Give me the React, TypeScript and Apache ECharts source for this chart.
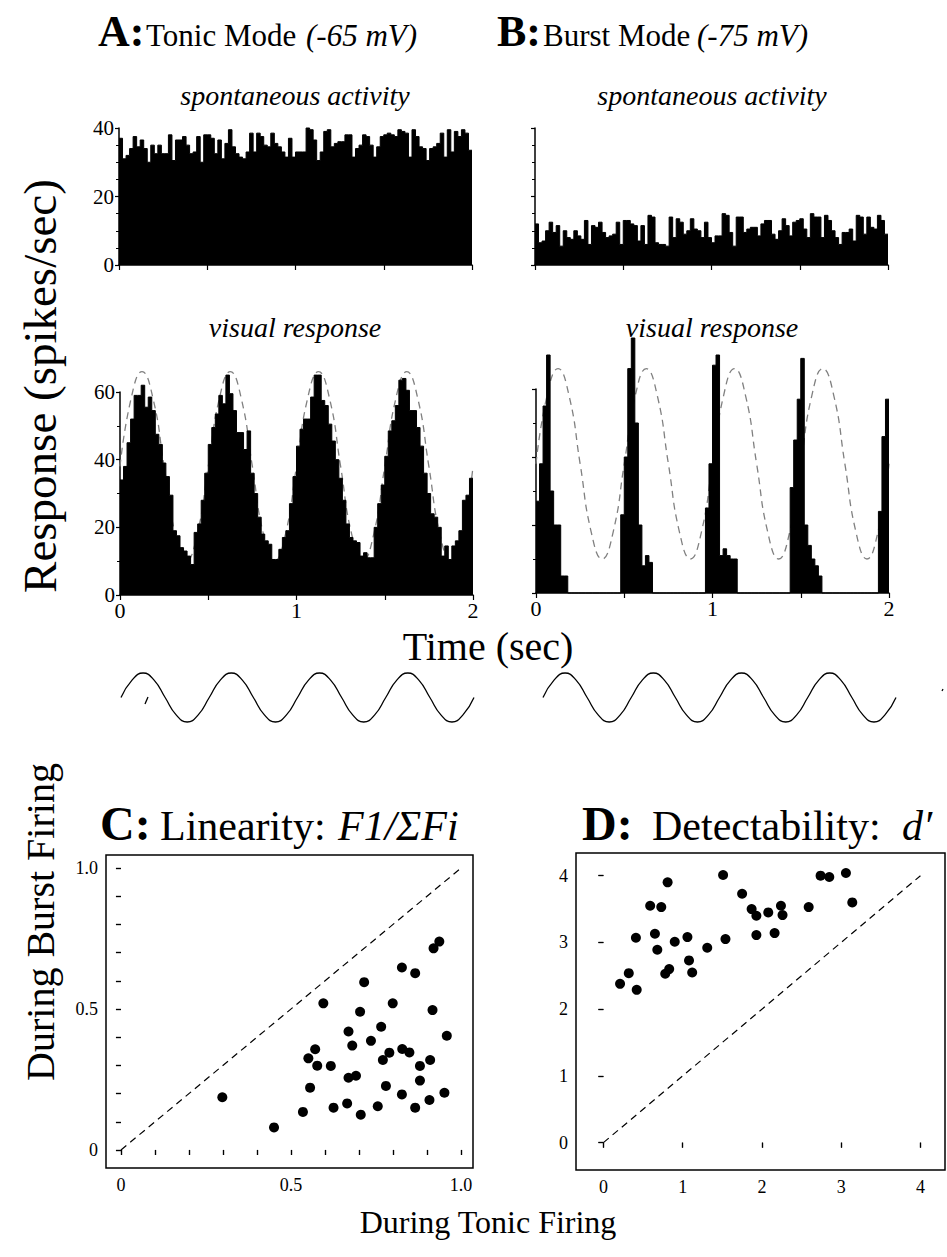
import React, { useEffect, useRef } from "react";
import * as echarts from "echarts";

const SERIF = "Liberation Serif";

// ---- histogram data (spikes/sec), 20 ms bins over 2 s ----
const binWidth = 0.02;

const tonicSpontaneous = [
  37, 31, 32, 34, 37.5, 34.5, 36.5, 34, 30, 35,
  32.5, 35, 32.5, 32.5, 38, 30.5, 36.5, 36.5, 37.5, 35,
  32.5, 33, 37.5, 30, 38, 38, 37, 32.5, 36.5, 31,
  35.5, 39.5, 34.5, 32.5, 31.5, 31, 33, 38.5, 33, 38.5,
  37.5, 35, 34.5, 38.5, 35.5, 34.5, 33, 31.5, 37, 31.5,
  33, 33, 33, 40, 39.5, 36.5, 30.5, 33, 39, 39.5,
  34.5, 35.5, 36, 36, 38, 38, 31.5, 34, 35, 38,
  37.5, 35, 31.5, 34.5, 37.5, 38, 38.5, 38, 37.5, 39.5,
  39, 38.5, 31.5, 39.5, 37.5, 34.5, 34, 30.5, 34, 34.5,
  35.5, 38.5, 31.5, 39.5, 33, 39, 37.5, 39.5, 38.5, 33.5,
];

const burstSpontaneous = [
  12, 6.5, 7, 10, 12.5, 9.5, 11.5, 5.5, 10, 8,
  7.5, 10, 8.5, 7.5, 13, 6, 11.5, 11, 12.5, 9.5,
  8, 8.5, 9, 12.5, 6, 13, 13, 12, 11.5, 7,
  11.5, 6, 14.5, 14, 6.5, 6, 6, 5.5, 14, 8,
  13.5, 12.5, 9, 10, 13.5, 10.5, 10, 8, 12.5, 8,
  6.5, 8.5, 8.5, 15, 14.5, 9.5, 5.5, 14, 14, 9.5,
  10.5, 11, 11, 8.5, 12, 13, 13, 9, 7.5, 10,
  13.5, 11.5, 8.5, 12.5, 13, 13.5, 10.5, 8, 15, 14,
  14, 8, 14.5, 13, 10, 8, 6, 9.5, 9.5, 10.5,
  7, 14.5, 14, 9, 14, 11, 10.5, 14.5, 13, 9,
];

const tonicVisual = [
  34, 38, 45, 52, 59, 59, 62, 55.5, 58.5, 54.5,
  47.5, 44.5, 39, 35, 29.5, 19, 17.5, 14, 13, 11.5,
  9, 18.5, 21, 28, 36, 44.5, 49.5, 53.5, 59, 56.5,
  65, 59.5, 54.5, 48, 48, 43, 48.5, 36, 30, 23,
  18, 16, 15, 10.5, 10.5, 13.5, 17, 19, 27, 35,
  44, 49, 52, 52, 58.5, 65, 65, 57.5, 56, 50.5,
  45.5, 40, 34.5, 28, 21, 17, 16, 15.5, 11.5, 12.5,
  11, 11, 20, 27, 32.5, 41, 48.5, 51.5, 56, 63.5,
  64, 60.5, 54.5, 54.5, 49.5, 44, 36, 30, 24, 23,
  20, 11.5, 14.5, 10.5, 14.5, 16, 19, 28, 29.5, 34.5,
];

const burstVisual = [
  27, 38, 55, 70, 30, 20, 20, 5, 5, 0,
  0, 0, 0, 0, 0, 0, 0, 0, 0, 0,
  0, 0, 0, 0, 23, 40, 66, 75, 50, 20,
  8, 11, 9, 0, 0, 0, 0, 0, 0, 0,
  0, 0, 0, 0, 0, 0, 0, 0, 25, 38,
  67, 70, 11, 13, 11, 10, 10, 0, 0, 0,
  0, 0, 0, 0, 0, 0, 0, 0, 0, 0,
  0, 0, 31, 45, 57, 69, 20, 14, 10, 8,
  5, 0, 0, 0, 0, 0, 0, 0, 0, 0,
  0, 0, 0, 0, 0, 0, 0, 24, 46, 57,
];

// sinusoidal fit (spikes/sec) read every 1/16 s over one cycle; 4 cycles in 2 s
const fitStep = 1 / 16;
const fitCycle = [38, 58, 66, 58, 38, 18, 10, 18];
const fitCycles = 4;
// stimulus (relative contrast) read every 1/16 s over one cycle
const stimCycle = [0, 0.71, 1, 0.71, 0, -0.71, -1, -0.71];

// ---- scatter data ----
const linearityTonic = [
  0.919, 0.936, 0.826, 0.865, 0.715, 0.595, 0.703, 0.799, 0.916, 0.669,
  0.765, 0.958, 0.68, 0.735, 0.571, 0.551, 0.577, 0.617, 0.77, 0.789,
  0.827, 0.848, 0.879, 0.909, 0.669, 0.691, 0.879, 0.556, 0.779, 0.298,
  0.826, 0.951, 0.907, 0.45, 0.535, 0.625, 0.665, 0.705, 0.755, 0.865,
];
const linearityBurst = [
  0.715, 0.739, 0.647, 0.627, 0.595, 0.52, 0.49, 0.52, 0.496, 0.42,
  0.437, 0.405, 0.37, 0.387, 0.357, 0.325, 0.299, 0.298, 0.319, 0.345,
  0.358, 0.346, 0.298, 0.319, 0.256, 0.263, 0.246, 0.221, 0.227, 0.187,
  0.197, 0.203, 0.177, 0.08, 0.135, 0.15, 0.165, 0.125, 0.155, 0.15,
];
const detectTonic = [
  0.21, 0.32, 0.42, 0.41, 0.59, 0.73, 0.65, 0.68, 0.81, 0.78,
  0.83, 0.9, 1.06, 1.08, 1.12, 1.31, 1.51, 1.54, 1.75, 1.87,
  1.93, 1.93, 2.08, 2.16, 2.24, 2.26, 2.59, 2.74, 2.85, 3.06,
  3.14,
];
const detectBurst = [
  2.38, 2.54, 2.29, 3.07, 3.55, 3.53, 3.13, 2.89, 3.9, 2.53,
  2.6, 3.01, 3.08, 2.73, 2.55, 2.92, 4.01, 3.05, 3.73, 3.5,
  3.4, 3.11, 3.45, 3.14, 3.55, 3.41, 3.53, 4.0, 3.98, 4.04,
  3.6,
];

const unityC = [0, 1];
const unityD = [0, 4];
const ticksC = [0, 0.1, 0.2, 0.3, 0.4, 0.5, 0.6, 0.7, 0.8, 0.9, 1.0];
const labelsC = [0, 0.5, 1.0];
const ticksD = [0, 1, 2, 3, 4];

function histogram(values: number[]) {
  const pts: number[][] = values.map((v, i) => [i * binWidth, v]);
  pts.push([values.length * binWidth, values[values.length - 1]]);
  return pts;
}
function cyclic(cycle: number[]) {
  const pts: number[][] = [];
  const n = cycle.length * fitCycles;
  for (let k = 0; k <= n; k++) pts.push([k * fitStep, cycle[k % cycle.length]]);
  return pts;
}

const black = "#000";

function histX(grid: number, labels: boolean) {
  return {
    type: "value", gridIndex: grid, min: 0, max: 2, interval: 0.5,
    axisLine: { show: true, lineStyle: { color: black, width: 1.5 } },
    axisTick: { show: true, length: 5, lineStyle: { color: black, width: 1.2 } },
    axisLabel: {
      show: labels, color: black, fontFamily: SERIF, fontSize: 22, margin: 4,
      formatter: (v: number) => (Number.isInteger(v) ? String(v) : ""),
    },
    splitLine: { show: false },
  };
}
function histY(grid: number, max: number, labels: boolean, minorSplit: number) {
  return {
    type: "value", gridIndex: grid, min: 0, max, interval: 20,
    axisLine: { show: true, lineStyle: { color: black, width: 1.5 } },
    axisTick: { show: true, length: 4, lineStyle: { color: black, width: 1.2 } },
    minorTick: { show: true, splitNumber: minorSplit, length: 3, lineStyle: { color: black, width: 1 } },
    axisLabel: { show: labels, color: black, fontFamily: SERIF, fontSize: 21, margin: 5 },
    splitLine: { show: false },
    minorSplitLine: { show: false },
  };
}
function hiddenAxis(grid: number, min: number, max: number) {
  return {
    type: "value", gridIndex: grid, min, max, show: false,
    axisLine: { show: false }, axisTick: { show: false }, axisLabel: { show: false }, splitLine: { show: false },
  };
}
function scatterAxis(
  grid: number, min: number, max: number, position: string, ticks: number[],
  labels: number[] | null, inside: boolean, fmt: (v: number) => string
) {
  return {
    type: "value", gridIndex: grid, min, max, position,
    axisLine: { show: false },
    axisTick: { show: true, inside, length: 5, customValues: ticks, lineStyle: { color: black, width: 1.2 } },
    axisLabel: {
      show: !!labels, customValues: labels || [], color: black, fontFamily: SERIF, fontSize: 18, margin: 8,
      formatter: fmt,
    },
    splitLine: { show: false },
  };
}
const fmtC = (v: number) => (v === 0 ? "0" : v.toFixed(1));
const fmtD = (v: number) => String(v);

function txt(text: string, x: number, y: number, size: number, o: any = {}) {
  return {
    type: "text",
    x, y,
    rotation: o.rotation || 0,
    z: 100,
    style: {
      text,
      fill: black,
      fontFamily: SERIF,
      fontSize: size,
      fontStyle: o.italic ? "italic" : "normal",
      fontWeight: o.bold ? "bold" : "normal",
      textAlign: o.align || "left",
      align: o.align || "left",
      textVerticalAlign: "middle",
      verticalAlign: "middle",
    },
  };
}

export default function App() {
  const ref = useRef<HTMLDivElement>(null);
  useEffect(() => {
    if (!ref.current) return;
    const chart = echarts.init(ref.current, undefined, { renderer: "svg" });

    const histSeries = (data: number[], xi: number) => ({
      type: "line", step: "end", xAxisIndex: xi, yAxisIndex: xi, symbol: "none", clip: false, z: 3,
      data: histogram(data),
      lineStyle: { color: black, width: 1 },
      areaStyle: { color: black, opacity: 1 },
    });
    const fitSeries = (xi: number) => ({
      type: "line", smooth: true, xAxisIndex: xi, yAxisIndex: xi, symbol: "none", clip: false, z: 2,
      data: cyclic(fitCycle),
      lineStyle: { color: "#808080", width: 1.3, type: [7, 5] },
    });
    const stimSeries = (xi: number) => ({
      type: "line", smooth: true, xAxisIndex: xi, yAxisIndex: xi, symbol: "none", clip: false,
      data: cyclic(stimCycle),
      lineStyle: { color: black, width: 1.3 },
    });

    const option: any = {
      animation: false,
      backgroundColor: "#fff",
      textStyle: { fontFamily: SERIF },
      grid: [
        { left: 119, top: 128, width: 353, height: 137 },
        { left: 535, top: 128, width: 353, height: 137 },
        { left: 120, top: 392, width: 353, height: 203 },
        { left: 536, top: 389, width: 353, height: 204 },
        { left: 121, top: 673, width: 353, height: 49 },
        { left: 543, top: 673, width: 353, height: 49 },
        { left: 106, top: 855, width: 367, height: 313, show: true, borderColor: black, borderWidth: 1.5 },
        { left: 576, top: 853, width: 369, height: 317, show: true, borderColor: black, borderWidth: 1.5 },
      ],
      xAxis: [
        histX(0, false),
        histX(1, false),
        histX(2, true),
        histX(3, true),
        hiddenAxis(4, 0, 2),
        hiddenAxis(5, 0, 2),
        scatterAxis(6, -0.044, 1.035, "bottom", ticksC, labelsC, false, fmtC),
        scatterAxis(6, -0.044, 1.035, "top", ticksC, null, true, fmtC),
        scatterAxis(7, -0.346, 4.31, "bottom", ticksD, ticksD, false, fmtD),
        scatterAxis(7, -0.346, 4.31, "top", ticksD, null, true, fmtD),
      ],
      yAxis: [
        histY(0, 40, true, 4),
        histY(1, 40, false, 4),
        histY(2, 60, true, 2),
        histY(3, 60, false, 2),
        hiddenAxis(4, -1, 1),
        hiddenAxis(5, -1, 1),
        scatterAxis(6, -0.064, 1.046, "left", ticksC, labelsC, false, fmtC),
        scatterAxis(6, -0.064, 1.046, "right", ticksC, null, true, fmtC),
        scatterAxis(7, -0.41, 4.34, "left", ticksD, ticksD, false, fmtD),
        scatterAxis(7, -0.41, 4.34, "right", ticksD, null, true, fmtD),
      ],
      series: [
        histSeries(tonicSpontaneous, 0),
        histSeries(burstSpontaneous, 1),
        fitSeries(2),
        histSeries(tonicVisual, 2),
        fitSeries(3),
        histSeries(burstVisual, 3),
        stimSeries(4),
        stimSeries(5),
        {
          type: "line", xAxisIndex: 6, yAxisIndex: 6, symbol: "none",
          data: unityC.map((v) => [v, v]),
          lineStyle: { color: black, width: 1.2, type: [7, 5] },
        },
        {
          type: "scatter", xAxisIndex: 6, yAxisIndex: 6, symbolSize: 10,
          itemStyle: { color: black, opacity: 1 },
          data: linearityTonic.map((v, i) => [v, linearityBurst[i]]),
        },
        {
          type: "line", xAxisIndex: 8, yAxisIndex: 8, symbol: "none",
          data: unityD.map((v) => [v, v]),
          lineStyle: { color: black, width: 1.2, type: [7, 5] },
        },
        {
          type: "scatter", xAxisIndex: 8, yAxisIndex: 8, symbolSize: 10,
          itemStyle: { color: black, opacity: 1 },
          data: detectTonic.map((v, i) => [v, detectBurst[i]]),
        },
      ],
      graphic: [
        txt("A:", 98, 46 - 0.34 * 44, 44, { bold: true }),
        txt("Tonic Mode", 146, 46 - 0.34 * 31, 31),
        txt("(-65 mV)", 306, 46 - 0.34 * 31, 31, { italic: true }),
        txt("B:", 497, 46 - 0.34 * 44, 44, { bold: true }),
        txt("Burst Mode", 543, 46 - 0.34 * 31, 31),
        txt("(-75 mV)", 697, 46 - 0.34 * 31, 31, { italic: true }),
        txt("spontaneous activity", 295, 95, 28, { italic: true, align: "center" }),
        txt("spontaneous activity", 712, 95, 28, { italic: true, align: "center" }),
        txt("visual response", 295, 327, 28, { italic: true, align: "center" }),
        txt("visual response", 712, 327, 28, { italic: true, align: "center" }),
        txt("Response (spikes/sec)", 40, 386, 47, { align: "center", rotation: Math.PI / 2 }),
        txt("Time (sec)", 488, 646, 40, { align: "center" }),
        txt("C:", 100, 840 - 0.34 * 48, 48, { bold: true }),
        txt("Linearity:", 160, 840 - 0.34 * 42, 42),
        txt("F1/\u03A3Fi", 338, 840 - 0.34 * 42, 42, { italic: true }),
        txt("D:", 582, 840 - 0.34 * 48, 48, { bold: true }),
        txt("Detectability:", 652, 840 - 0.34 * 42, 42),
        txt("d\u2032", 902, 840 - 0.34 * 42, 42, { italic: true }),
        txt("During Burst Firing", 40, 922, 40, { align: "center", rotation: Math.PI / 2 }),
        txt("During Tonic Firing", 488, 1222, 32, { align: "center" }),
        // small stray marks present in the reference scan
        { type: "line", shape: { x1: 145, y1: 704, x2: 148, y2: 697 }, style: { stroke: black, lineWidth: 1.3 } },
        { type: "line", shape: { x1: 942, y1: 691, x2: 943, y2: 689 }, style: { stroke: black, lineWidth: 1.3 } },
      ],
    };
    chart.setOption(option);
    return () => chart.dispose();
  }, []);
  return (
    <div
      ref={ref}
      style={{ position: "absolute", left: 0, top: 0, width: 947, height: 1257, background: "#fff" }}
    />
  );
}
